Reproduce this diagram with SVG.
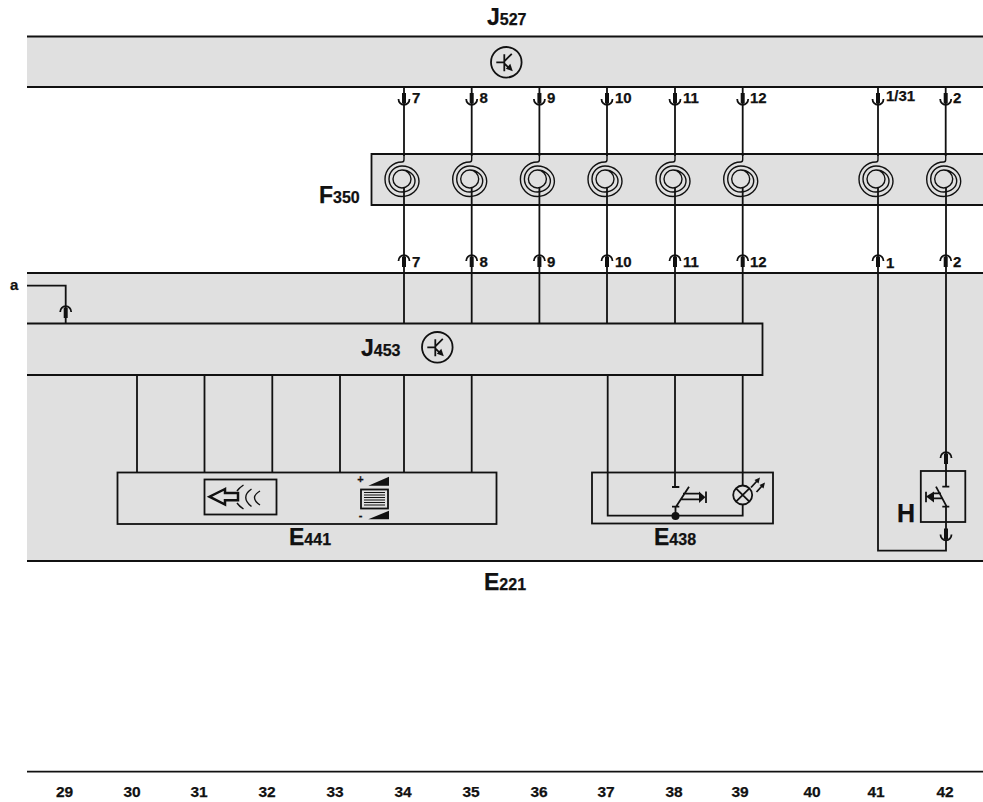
<svg xmlns="http://www.w3.org/2000/svg" width="983" height="802" viewBox="0 0 983 802">
<style>
text{font-family:"Liberation Sans",Arial,sans-serif;font-weight:700;fill:#111;stroke:#111;stroke-width:.25}
.b{font-size:23px}.s{font-size:16px}.n{font-size:15px}.f{font-size:15.500px;text-anchor:middle}
.band{fill:#e0e0e0;stroke:none}
.l{fill:none;stroke:#111;stroke-width:1.800}
.c{fill:none;stroke:#111;stroke-width:1.400}
.w{fill:none;stroke:#111;stroke-width:1.800}
.k{fill:#111;stroke:none}
</style>
<defs>
<g id="coil"><path class="c" d="M2 -25V-20Q2 -17.500 0 -17.500A17 17.250 0 0 0 0 17A17 15.250 0 0 0 0 -13.500A13 13 0 0 0 0 12.500A13 11 0 0 0 0 -9.500A9 9 0 0 0 0 8.500A9 9 0 0 0 0 -9.500M0 8.500H2"/></g>
<g id="pd"><path class="l" d="M-5.500 0A5.500 5.800 0 0 0 5.500 0"/><rect class="k" x="-2" y="-6" width="4" height="10.500"/></g>
<g id="pu"><path class="l" d="M-5.500 0A5.500 5.800 0 0 1 5.500 0"/><rect class="k" x="-2" y="-4.500" width="4" height="10.500"/></g>
<g id="tr"><circle class="l" r="15.300"/><path class="l" d="M-10 0H-2M-2 -8V9M-2 -1L5.500 -8.500M-2 1L3 6"/><path class="k" d="M6.500 9L-0.500 6.500L4 1.500Z"/></g>
</defs>

<g id="J527">
<rect class="band" x="27" y="36" width="956" height="51"/>
<path class="l" d="M27 36.500H983M27 87H983"/>
<use href="#tr" x="506.300" y="62.300"/>
<text x="487" y="25" class="b">J<tspan class="s">527</tspan></text>
</g>

<g id="F350">
<rect class="band" x="371" y="154" width="612" height="51"/>
<path class="l" d="M983 154H371.500V205H983"/>
<text x="319" y="203" class="b">F<tspan class="s">350</tspan></text>
</g>

<g id="E221">
<rect class="band" x="27" y="273" width="956" height="288"/>
<path class="l" d="M27 273H983M27 561H983"/>
<text x="484" y="590" class="b">E<tspan class="s">221</tspan></text>
<text x="10" y="290" class="n">a</text>
</g>

<g id="J453">
<path class="l" d="M27 323.500H762.500V375H27"/>
<use href="#tr" x="437.300" y="347.300"/>
<text x="361" y="356" class="b">J<tspan class="s">453</tspan></text>
</g>

<g id="connectors">
<path class="w" d="M404 87V156M471.700 87V156M539.400 87V156M607 87V156M675 87V156M742.700 87V156M878 87V156M945.700 87V156"/>
<path class="w" d="M404 188V323M471.700 188V323M539.400 188V323M607 188V323M675 188V323M742.700 188V323"/>
<path class="w" d="M878 188V550.700H946V506.700M946 188V486.700"/>
<path class="w" d="M27 285.700H65.700V323"/>
<path class="w" d="M137 375V472M204.500 375V472M272.300 375V472M340 375V472M404 375V472M471.700 375V472"/>
<path class="w" d="M607.700 375V515.700H742.700V504M675 375V487M742.700 375V485.500"/>
<use href="#pd" x="404" y="99"/><use href="#pd" x="471.700" y="99"/><use href="#pd" x="539.400" y="99"/><use href="#pd" x="607" y="99"/><use href="#pd" x="675" y="99"/><use href="#pd" x="742.700" y="99"/><use href="#pd" x="878" y="99"/><use href="#pd" x="945.700" y="99"/>
<use href="#pu" x="404" y="261"/><use href="#pu" x="471.700" y="261"/><use href="#pu" x="539.400" y="261"/><use href="#pu" x="607" y="261"/><use href="#pu" x="675" y="261"/><use href="#pu" x="742.700" y="261"/><use href="#pu" x="878" y="261"/><use href="#pu" x="945.700" y="261"/>
<use href="#pu" x="65.700" y="312"/>
<use href="#pu" x="946" y="458"/>
<use href="#pd" x="946" y="534.500"/>
</g>

<g id="F350-coils">
<use href="#coil" x="402" y="179.500"/><use href="#coil" x="469.700" y="179.500"/><use href="#coil" x="537.400" y="179.500"/><use href="#coil" x="605" y="179.500"/><use href="#coil" x="673" y="179.500"/><use href="#coil" x="740.700" y="179.500"/><use href="#coil" x="876" y="179.500"/><use href="#coil" x="943.700" y="179.500"/>
</g>

<g id="pin-labels">
<text class="n" x="412" y="103">7</text><text class="n" x="479.500" y="103">8</text><text class="n" x="547" y="103">9</text><text class="n" x="615" y="103">10</text><text class="n" x="683" y="103">11</text><text class="n" x="750" y="103">12</text><text class="n" x="886" y="101">1/31</text><text class="n" x="953" y="103">2</text>
<text class="n" x="412" y="267">7</text><text class="n" x="479.500" y="267">8</text><text class="n" x="547" y="267">9</text><text class="n" x="615" y="267">10</text><text class="n" x="683" y="267">11</text><text class="n" x="750" y="267">12</text><text class="n" x="886" y="268">1</text><text class="n" x="953" y="267">2</text>
</g>

<g id="E441">
<rect class="l" x="117.500" y="472.500" width="379" height="51.500"/>
<rect class="l" x="204.500" y="479.500" width="72" height="35"/>
<path class="l" style="stroke-width:2.500" d="M225 489L209.500 496.700L225 504.500V500.300H238V493H225Z"/>
<path class="l" style="stroke-width:1.400" d="M243.500 485Q239 488 237 491M237 503Q239 506 243.500 509M251.500 489Q240 497 251.500 506.500M260 491Q249 497.500 260 505"/>
<path class="k" d="M368.300 485.700H389V476.700ZM368.300 519.300H389V510.700Z"/>
<rect class="l" x="361" y="489.500" width="27" height="19"/>
<path class="l" style="stroke-width:1.200" d="M364 492.500H385M364 495H385M364 497.500H385M364 500H385M364 502.500H385M364 505H385"/>
<text x="360.500" y="483" font-size="11" text-anchor="middle">+</text>
<text x="360.500" y="519" font-size="11" text-anchor="middle">-</text>
<text x="289" y="545" class="b">E<tspan class="s">441</tspan></text>
</g>

<g id="E438">
<rect class="l" x="592" y="472.500" width="181" height="51"/>
<path class="l" d="M672 487H679.300M672 506.700H679.300M675.500 506.700V515.700M676 506.700L689 486.700M683 493.700H700M681 499.300H700M706 491.500V503"/>
<path class="k" d="M699 491.500L705.500 497.200L699 503Z"/>
<circle class="k" cx="675.500" cy="516" r="4"/>
<circle class="l" cx="742.700" cy="495" r="9.500"/>
<path class="l" d="M736 488.300L749.400 501.700M749.400 488.300L736 501.700M751 487.500L757 481M756.500 492L762 486"/>
<path class="k" d="M760 477.500L758.500 483.500L754.500 480ZM765 482.500L763.500 488.500L759.500 485Z"/>
<text x="654" y="545" class="b">E<tspan class="s">438</tspan></text>
</g>

<g id="H">
<rect class="l" x="920.800" y="471" width="44.500" height="51"/>
<path class="l" d="M942.300 486.700H949.300M942.300 506.700H949.300M936 486.700L946.700 506.700M926 491.700V502.300M933 493.300H941M933 498.300H943"/>
<path class="k" d="M926 496.500L934 491.500V502.500Z"/>
<text x="897" y="522" font-size="25">H</text>
</g>

<g id="scale">
<path class="l" d="M27 771.700H983"/>
<text class="f" x="64.500" y="797">29</text><text class="f" x="132" y="797">30</text><text class="f" x="199" y="797">31</text><text class="f" x="267" y="797">32</text><text class="f" x="335" y="797">33</text><text class="f" x="403" y="797">34</text><text class="f" x="471" y="797">35</text><text class="f" x="539" y="797">36</text><text class="f" x="606" y="797">37</text><text class="f" x="674" y="797">38</text><text class="f" x="740" y="797">39</text><text class="f" x="812" y="797">40</text><text class="f" x="876" y="797">41</text><text class="f" x="945" y="797">42</text>
</g>
</svg>
